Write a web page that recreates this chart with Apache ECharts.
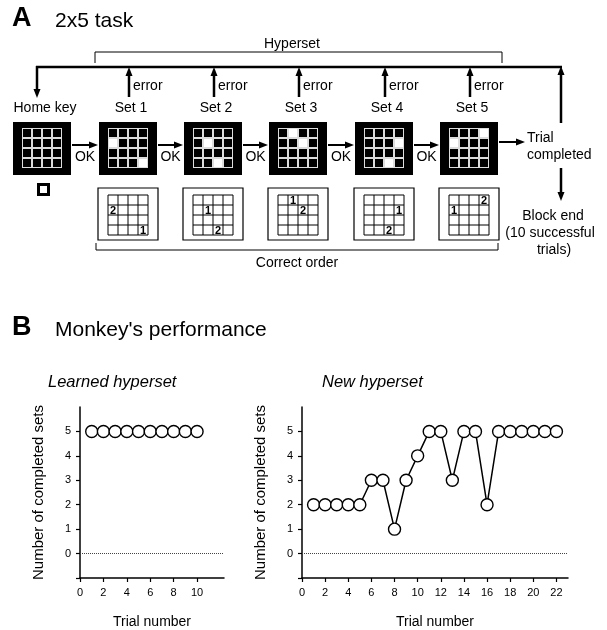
<!DOCTYPE html>
<html lang="en">
<head>
    <meta charset="UTF-8">
    <title>2x5 task</title>
    <script type="text/javascript" src="https://cdn.jsdelivr.net/npm/echarts@6/dist/echarts.min.js"></script>
    <style>body { margin: 0; background: #fff; }</style>
</head>
<body>
    <div id="main" style="width: 607px; height: 630px"></div>
    <script type="text/javascript">
        // panel A: which cells are lit on each set (row, col) and their press order
        var stepLabels = ['Home key', 'Set 1', 'Set 2', 'Set 3', 'Set 4', 'Set 5'];
        var setTargets = [
            [[1, 0], [3, 3]],
            [[1, 1], [3, 2]],
            [[0, 1], [1, 2]],
            [[1, 3], [3, 2]],
            [[0, 3], [1, 0]]
        ];
        var setOrder = [['2', '1'], ['1', '2'], ['1', '2'], ['1', '2'], ['2', '1']];

        // panel B data
        var learnedTrials = [1, 2, 3, 4, 5, 6, 7, 8, 9, 10];
        var learnedSets = [5, 5, 5, 5, 5, 5, 5, 5, 5, 5];
        var newTrials = [1, 2, 3, 4, 5, 6, 7, 8, 9, 10, 11, 12, 13, 14, 15, 16, 17, 18, 19, 20, 21, 22];
        var newSets = [2, 2, 2, 2, 2, 3, 3, 1, 3, 4, 5, 5, 3, 5, 5, 2, 5, 5, 5, 5, 5, 5];
        var yLabels = [0, 1, 2, 3, 4, 5];
        var yTicks = [-1, 0, 1, 2, 3, 4, 5];

        var FONT = '"Liberation Sans", Arial, sans-serif';
        var g = [];

        function txt(s, x, y, size, align, extra) {
            var st = {
                text: s, x: x, y: y, fill: '#000',
                font: (extra || '') + ' ' + size + 'px ' + FONT,
                textAlign: align || 'center', textVerticalAlign: 'middle'
            };
            g.push({ type: 'text', style: st, z: 10 });
        }
        function seg(x1, y1, x2, y2, w) {
            g.push({ type: 'line', shape: { x1: x1, y1: y1, x2: x2, y2: y2 },
                style: { stroke: '#000', lineWidth: w || 1 } });
        }
        function arrow(x1, y1, x2, y2, w) {
            var dx = x2 - x1, dy = y2 - y1, len = Math.sqrt(dx * dx + dy * dy);
            var ux = dx / len, uy = dy / len, hl = 9, hw = 3.5;
            var bx = x2 - ux * hl, by = y2 - uy * hl;
            seg(x1, y1, bx + ux, by + uy, w || 2);
            g.push({ type: 'polygon', shape: { points: [[x2, y2], [bx - uy * hw, by + ux * hw], [bx + uy * hw, by - ux * hw]] },
                style: { fill: '#000' } });
        }

        // layout of panel A
        var cx = [42, 128, 213, 298, 384, 469];
        var scrW = 58, scrH = 53, scrTop = 122, inner = 40, cell = inner / 4;

        txt('A', 12, 19, 27, 'left', 'bold');
        txt('2x5 task', 55, 21, 21, 'left');

        // hyperset bracket
        txt('Hyperset', 292, 44, 14);
        seg(95, 52, 502, 52, 1);
        seg(95, 52, 95, 63, 1);
        seg(502, 52, 502, 63, 1);

        // error / return loop
        seg(36, 67, 562, 67, 2.5);
        arrow(37, 66, 37, 98, 2.5);
        arrow(561, 123, 561, 66, 2.5);
        for (var i = 1; i < 6; i++) {
            arrow(cx[i] + 1, 97, cx[i] + 1, 67, 2.5);
            txt('error', cx[i] + 5, 86, 14, 'left');
        }

        stepLabels.forEach(function (lab, k) {
            txt(lab, cx[k] + 3, 108, 14);
            // black screen
            var x0 = cx[k] - scrW / 2;
            g.push({ type: 'rect', shape: { x: x0, y: scrTop, width: scrW, height: scrH }, style: { fill: '#000' } });
            var ix = cx[k] - inner / 2, iy = scrTop + 6;
            g.push({ type: 'rect', shape: { x: ix, y: iy, width: inner, height: inner }, style: { fill: '#ddd' } });
            var lit = k > 0 ? setTargets[k - 1] : [];
            for (var r = 0; r < 4; r++) {
                for (var c = 0; c < 4; c++) {
                    var on = lit.some(function (p) { return p[0] === r && p[1] === c; });
                    g.push({ type: 'rect', shape: { x: ix + c * cell + 1, y: iy + r * cell + 1, width: cell - 2, height: cell - 2 },
                        style: { fill: on ? '#fff' : '#000' } });
                }
            }
            if (k < 5) {
                var ax1 = cx[k] + scrW / 2 + 1, ax2 = cx[k + 1] - scrW / 2 - 1;
                arrow(ax1, 145, ax2, 145, 2);
                txt('OK', (ax1 + ax2) / 2, 157, 14);
            }
            if (k > 0) {
                // correct order screen
                var wy = 188;
                g.push({ type: 'rect', shape: { x: cx[k] - 30, y: wy, width: 60, height: 52 },
                    style: { fill: '#fff', stroke: '#000', lineWidth: 1.2 } });
                var gx = cx[k] - inner / 2, gy = wy + 7;
                for (var t = 0; t <= 4; t++) {
                    seg(gx + t * cell, gy, gx + t * cell, gy + inner, 1);
                    seg(gx, gy + t * cell, gx + inner, gy + t * cell, 1);
                }
                setTargets[k - 1].forEach(function (p, j) {
                    txt(setOrder[k - 1][j], gx + p[1] * cell + cell / 2, gy + p[0] * cell + cell / 2 + 0.5, 11, 'center', 'bold');
                });
            }
        });

        // home key marker
        g.push({ type: 'rect', shape: { x: 38.5, y: 184.5, width: 10, height: 10 },
            style: { fill: '#fff', stroke: '#000', lineWidth: 3 } });

        // trial completed / block end
        arrow(499, 142, 525, 142, 2);
        txt('Trial', 527, 138, 14, 'left');
        txt('completed', 527, 155, 14, 'left');
        arrow(561, 168, 561, 201, 2.5);
        txt('Block end', 553, 216, 14);
        txt('(10 successful', 550, 233, 14);
        txt('trials)', 554, 250, 14);

        // correct order bracket
        seg(96, 250, 498, 250, 1);
        seg(96, 243, 96, 250, 1);
        seg(498, 243, 498, 250, 1);
        txt('Correct order', 297, 263, 14);

        // panel B headings
        txt('B', 12, 328, 27, 'left', 'bold');
        txt("Monkey's performance", 55, 330, 21, 'left');
        txt('Learned hyperset', 48, 382, 16.5, 'left', 'italic');
        txt('New hyperset', 322, 382, 16.5, 'left', 'italic');

        function xAxisOpt(idx, max, labels) {
            return {
                type: 'value', gridIndex: idx, min: 0, max: max, interval: 2,
                name: 'Trial number', nameLocation: 'middle', nameGap: 37,
                nameTextStyle: { fontFamily: FONT, fontSize: 14, color: '#000' },
                axisLine: { onZero: false, lineStyle: { color: '#000', width: 1.5 } },
                axisTick: { customValues: labels, length: 4, lineStyle: { color: '#000', width: 1.2 } },
                axisLabel: { customValues: labels, fontFamily: FONT, fontSize: 11, color: '#000', margin: 9 },
                splitLine: { show: false }
            };
        }
        function yAxisOpt(idx) {
            return {
                type: 'value', gridIndex: idx, min: -1, max: 6, interval: 1,
                name: 'Number of completed sets', nameLocation: 'middle', nameGap: 34,
                nameTextStyle: { fontFamily: FONT, fontSize: 15, color: '#000' },
                axisLine: { onZero: false, lineStyle: { color: '#000', width: 1.5 } },
                axisTick: { customValues: yTicks, length: 4, lineStyle: { color: '#000', width: 1.2 } },
                axisLabel: { customValues: yLabels, fontFamily: FONT, fontSize: 11, color: '#000', margin: 9 },
                splitLine: { show: false }
            };
        }
        function seriesOpt(idx, xs, ys) {
            return {
                type: 'line', xAxisIndex: idx, yAxisIndex: idx,
                data: xs.map(function (x, i) { return [x, ys[i]]; }),
                symbol: 'circle', symbolSize: 12, showAllSymbol: true,
                itemStyle: { color: '#fff', borderColor: '#000', borderWidth: 1.4 },
                lineStyle: { color: '#000', width: 1.5 },
                animation: false,
                markLine: {
                    silent: true, symbol: 'none', label: { show: false },
                    lineStyle: { color: '#444', type: 'dotted', width: 1 },
                    data: [{ yAxis: 0 }]
                }
            };
        }

        var myChart = echarts.init(document.getElementById('main'));
        myChart.setOption({
            animation: false,
            grid: [
                { left: 80, top: 407, width: 144, height: 171.5 },
                { left: 302, top: 407, width: 266, height: 171.5 }
            ],
            xAxis: [
                xAxisOpt(0, 12.3, [0, 2, 4, 6, 8, 10]),
                xAxisOpt(1, 23, [0, 2, 4, 6, 8, 10, 12, 14, 16, 18, 20, 22])
            ],
            yAxis: [yAxisOpt(0), yAxisOpt(1)],
            series: [
                seriesOpt(0, learnedTrials, learnedSets),
                seriesOpt(1, newTrials, newSets)
            ],
            graphic: g
        });
    </script>
</body>
</html>
